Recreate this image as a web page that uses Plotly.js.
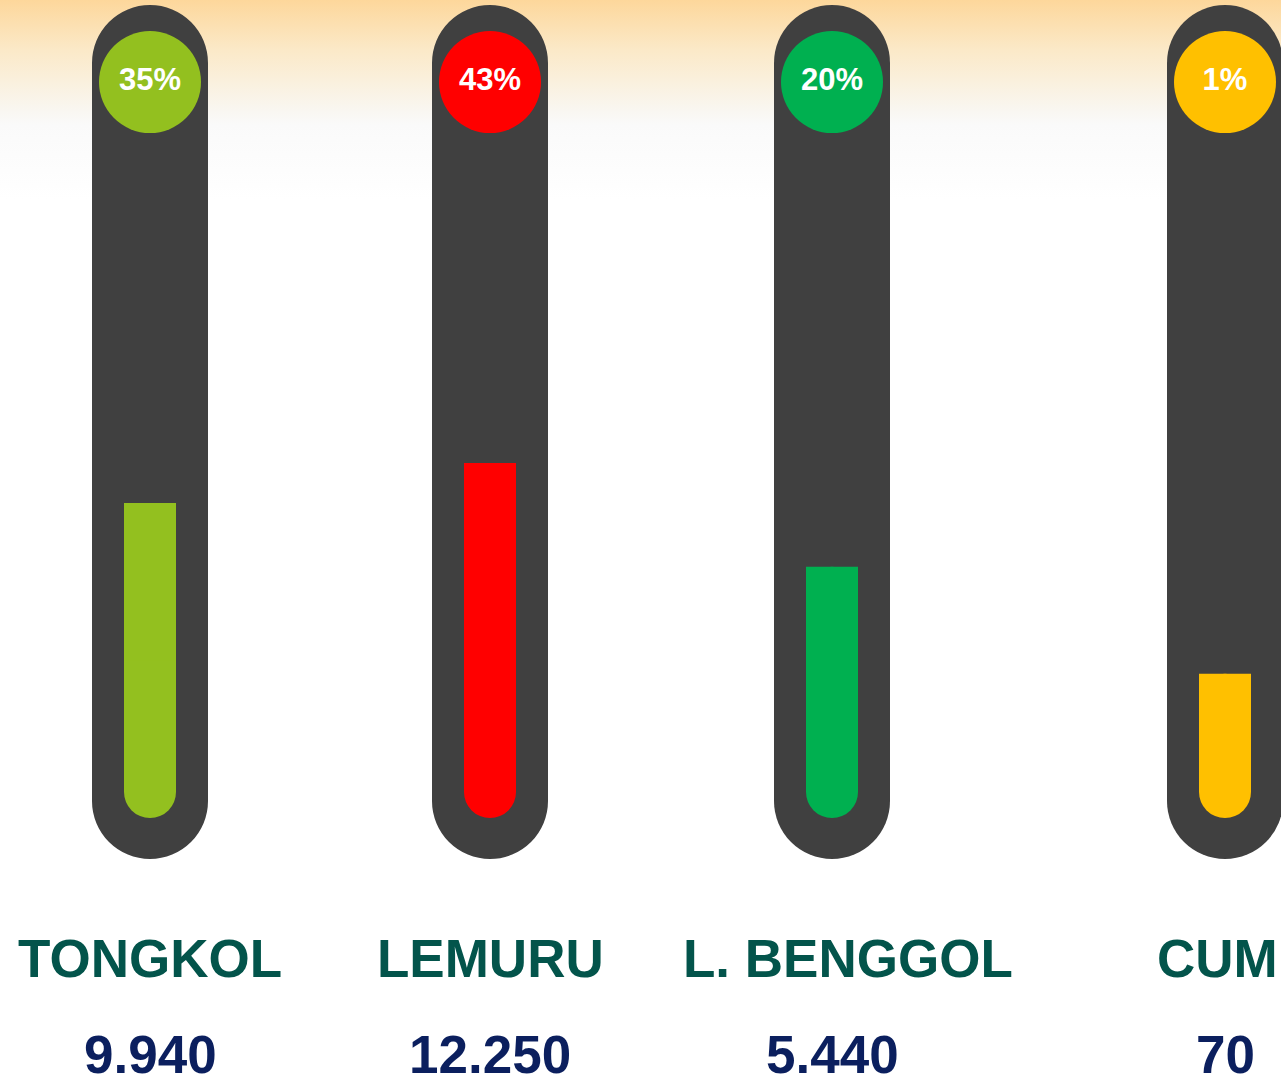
<!DOCTYPE html>
<html>
<head>
<meta charset="utf-8">
<script src="https://cdn.plot.ly/plotly-3.0.1.min.js"></script>
<style>
  html, body { margin: 0; padding: 0; width: 1281px; height: 1084px; overflow: hidden; }
  body { background: linear-gradient(to bottom, #FDD79B 0px, #FBE9C8 50px, #F9F7F2 112px, #FAFAFA 125px, #FFFFFF 200px); }
  #chart { width: 1281px; height: 1084px; }
</style>
</head>
<body>
<div id="chart"></div>
<script>
// ---- data ----
const categories = ['TONGKOL', 'LEMURU', 'L. BENGGOL', 'CUM'];
const shares = [35, 43, 20, 1];               // percent shown in bubbles
const catches = [9940, 12250, 5440, 70];      // values shown under labels
const fillLevels = [45.0, 50.7, 35.9, 20.6];  // gauge fill level (0-100 of tube scale)
const colors = ['#93C01F', '#FF0000', '#00B050', '#FFC000'];

// ---- layout configuration ----
const slotX = [150, 490, 832, 1225];
const labelShift = [0, 0, 16, -8];
const tubeBottom = -5.86, tubeTop = 116.14;
const bubbleLevel = 105.14;
const tubeColor = '#404040';
const fontFam = 'Liberation Sans, Arial, sans-serif';

function fmt(v) { return String(v).replace(/\B(?=(\d{3})+(?!\d))/g, '.'); }

const n = categories.length;
const traces = [
  // tube body (rounded at both ends)
  { type: 'bar', x: slotX, y: Array(n).fill(tubeTop - tubeBottom), base: Array(n).fill(tubeBottom),
    width: 116, marker: { color: tubeColor, cornerradius: 58, line: { width: 0 } }, hoverinfo: 'skip' },
  // fill (rounded bottom)
  { type: 'bar', x: slotX, y: fillLevels, base: Array(n).fill(0),
    width: 52, marker: { color: colors, cornerradius: 26, line: { width: 0 } }, hoverinfo: 'skip' },
  // fill upper half with square top
  { type: 'bar', x: slotX, y: fillLevels.map(v => v / 2), base: fillLevels.map(v => v / 2),
    width: 52, marker: { color: colors, line: { width: 0 } }, hoverinfo: 'skip' },
  // percentage bubbles
  { type: 'scatter', mode: 'markers+text', x: slotX, y: Array(n).fill(bubbleLevel),
    marker: { size: 102, color: colors, line: { width: 0 } },
    text: shares.map(s => s + '%'), textposition: 'middle center',
    textfont: { family: fontFam, size: 31, color: '#FFFFFF', weight: 'bold' },
    hoverinfo: 'skip' }
];

const annotations = [];
for (let i = 0; i < n; i++) {
  annotations.push({ x: slotX[i], xref: 'x', xshift: labelShift[i], y: 1 - 958 / 1084, yref: 'paper',
    text: '<b>' + categories[i] + '</b>', showarrow: false, xanchor: 'center', yanchor: 'middle',
    font: { family: fontFam, size: 53, color: '#03544B' } });
  annotations.push({ x: slotX[i], xref: 'x', y: 1 - 1054 / 1084, yref: 'paper',
    text: '<b>' + fmt(catches[i]) + '</b>', showarrow: false, xanchor: 'center', yanchor: 'middle',
    font: { family: fontFam, size: 53, color: '#0B1F5E' } });
}

const layout = {
  width: 1281, height: 1084,
  margin: { l: 0, r: 0, t: 0, b: 0, pad: 0 },
  paper_bgcolor: 'rgba(0,0,0,0)', plot_bgcolor: 'rgba(0,0,0,0)',
  barmode: 'overlay', showlegend: false,
  xaxis: { range: [0, 1281], visible: false, fixedrange: true },
  yaxis: { range: [-38, 116.857], visible: false, fixedrange: true },
  annotations: annotations
};

Plotly.newPlot('chart', traces, layout, { staticPlot: true, displayModeBar: false });
</script>
</body>
</html>
